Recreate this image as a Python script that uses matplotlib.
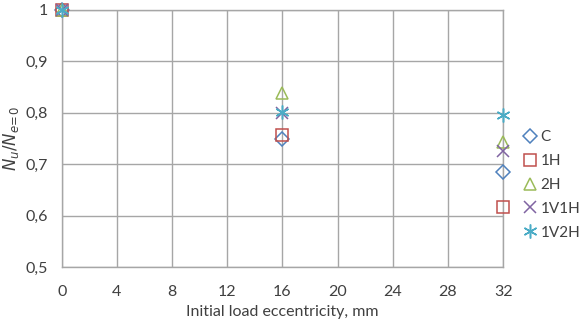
import matplotlib.pyplot as plt
from matplotlib.ticker import FuncFormatter

plt.rcParams['font.family'] = ['Lato', 'DejaVu Sans']

# Daten
exzentrizitaet = [0, 16, 32]
serien = ['C', '1H', '2H', '1V1H', '1V2H']
werte_c = [1.0, 0.749, 0.685]
werte_1h = [1.0, 0.757, 0.617]
werte_2h = [1.0, 0.838, 0.743]
werte_1v1h = [1.0, 0.800, 0.726]
werte_1v2h = [1.0, 0.801, 0.796]

alle_werte = [werte_c, werte_1h, werte_2h, werte_1v1h, werte_1v2h]
marker = ['D', 's', '^', 'x', (6, 2, 0)]
farben = ['#4F81BD', '#C0504D', '#9BBB59', '#8064A2', '#4BACC6']
groessen = [7, 8.5, 8.5, 8.5, 10]

fig = plt.figure(figsize=(5.83, 3.22), dpi=100)
ax = fig.add_axes([0.106, 0.171, 0.757, 0.798])

for name, werte, m, farbe, gr in zip(serien, alle_werte, marker, farben, groessen):
    ax.plot(exzentrizitaet, werte, linestyle='none', marker=m, markersize=gr,
            markerfacecolor='none', markeredgecolor=farbe, markeredgewidth=1.1,
            color=farbe, label=name, clip_on=False, zorder=3)

ax.set_xlim(0, 32)
ax.set_ylim(0.5, 1.0)
ax.set_xticks(range(0, 33, 4))
ax.set_yticks([0.5, 0.6, 0.7, 0.8, 0.9, 1.0])


def komma(v, pos):
    if abs(v - 1) < 1e-9:
        return '1'
    return f'{v:.1f}'.replace('.', ',')


ax.yaxis.set_major_formatter(FuncFormatter(komma))
ax.grid(True, color='#A6A6A6', linewidth=1)
for s in ax.spines.values():
    s.set_color('#A6A6A6')
    s.set_linewidth(1)
ax.tick_params(length=0, labelsize=11.5, colors='#404040')
ax.tick_params(axis='x', pad=13)
ax.tick_params(axis='y', pad=10)

ax.set_xlabel('Initial load eccentricity, mm', fontsize=11.5, color='#404040', labelpad=4)
ax.set_ylabel(r'$N_u/N_{e\!=\!0}$', fontsize=12, color='#404040', labelpad=3)

ax.legend(loc='upper left', bbox_to_anchor=(0.885, 0.62), bbox_transform=fig.transFigure,
          frameon=False, fontsize=11, handlelength=0.8, handletextpad=0.3,
          labelspacing=0.65, borderpad=0, labelcolor='#404040')

fig.savefig('out.png', dpi=100)
